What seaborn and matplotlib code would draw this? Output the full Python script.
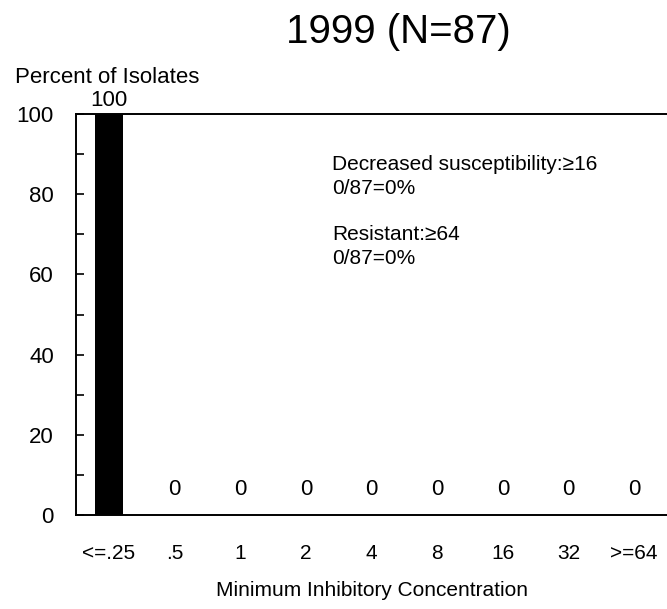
import matplotlib
matplotlib.use('Agg')
import matplotlib.pyplot as plt
import seaborn as sns
import pandas as pd

# data
mic_labels = ['<=.25', '.5', '1', '2', '4', '8', '16', '32', '>=64']
percent = [100, 0, 0, 0, 0, 0, 0, 0, 0]
title_text = '1999 (N=87)'
note_decreased = 'Decreased susceptibility:\u226516\n0/87=0%'
note_resistant = 'Resistant:\u226564\n0/87=0%'

sns.set_style('white')
plt.rcParams['font.family'] = ['Liberation Sans', 'DejaVu Sans']
plt.rcParams['text.color'] = 'black'
plt.rcParams['xtick.color'] = 'black'
plt.rcParams['ytick.color'] = 'black'
plt.rcParams['axes.labelcolor'] = 'black'

df = pd.DataFrame({'MIC': mic_labels, 'Percent': percent})

fig = plt.figure(figsize=(6.67, 6.09), dpi=100)
ax = fig.add_axes([76 / 667, 1 - 515 / 609, 1 - 76 / 667, (515 - 114) / 609])

sns.barplot(data=df, x='MIC', y='Percent', order=mic_labels, color='black',
            width=0.42, saturation=1, edgecolor='black', linewidth=0, ax=ax)

# value labels above bars
for i, v in enumerate(percent):
    off = 2 if v > 0 else 11
    ax.annotate(str(v), xy=(i, v), xytext=(0, off), textcoords='offset points',
                ha='center', va='bottom', fontsize=16)

ax.set_xlim(-0.5, len(mic_labels) - 0.5)
ax.set_ylim(0, 100)
ax.set_yticks(range(0, 101, 20))
ax.set_yticks(range(10, 100, 20), minor=True)
ax.tick_params(axis='y', which='both', direction='in', length=6, width=1.2,
               left=True, labelsize=16, pad=16)
ax.tick_params(axis='x', length=0, labelsize=15, pad=21)

for side in ['left', 'bottom', 'top']:
    ax.spines[side].set_color('black')
    ax.spines[side].set_linewidth(1.4)
ax.spines['right'].set_visible(False)

ax.set_xlabel('Minimum Inhibitory Concentration', fontsize=15, labelpad=13)
ax.set_ylabel('')

fig.text(398 / 667, 1 - 43 / 609, title_text, ha='center', va='baseline', fontsize=29)
fig.text(15 / 667, 1 - 83 / 609, 'Percent of Isolates', ha='left', va='baseline', fontsize=16)
fig.text(332 / 667, 1 - 155 / 609, note_decreased, ha='left', va='top', fontsize=15,
         linespacing=1.35)
fig.text(332 / 667, 1 - 225 / 609, note_resistant, ha='left', va='top', fontsize=15,
         linespacing=1.35)

fig.savefig('out.png', dpi=100)
